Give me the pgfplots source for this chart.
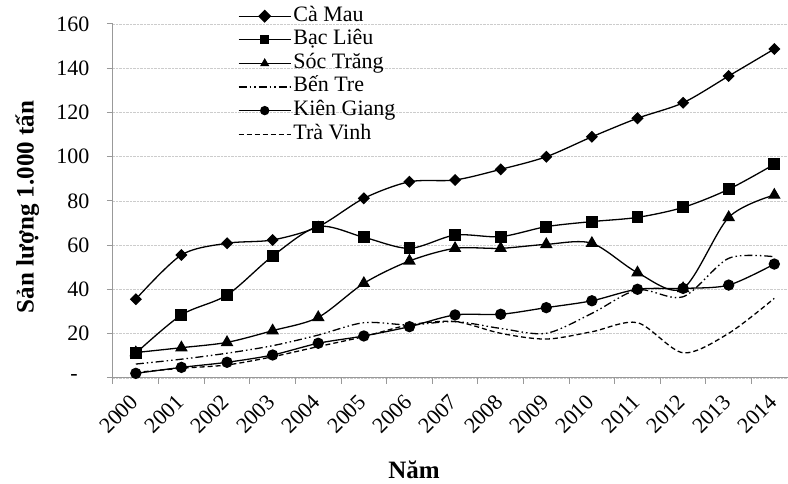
\documentclass[border=0pt]{standalone}
\usepackage{pgfplots}
\pgfplotsset{compat=1.18}
\usepackage{pgfplotstable}
\usepackage{fontspec}
\setmainfont{Liberation Serif}

% year index, then the six provinces (1.000 tan)
\pgfplotstableread{
x camau baclieu soctrang bentre kiengiang travinh
0 35.6 11.2 11.5 6.3 2.1 2.5
1 55.6 28.5 13.7 8.5 4.8 4.4
2 60.9 37.5 16.1 11.2 7.1 5.9
3 62.4 55.1 21.4 14.6 10.4 9.6
4 68.4 68.4 27.4 19.4 15.7 14.2
5 81.2 63.6 42.8 25.0 19.0 18.7
6 88.7 58.6 52.9 24.0 23.2 24.0
7 89.5 64.6 58.6 25.5 28.5 25.5
8 94.3 63.9 58.6 22.4 28.8 20.2
9 100.0 68.4 60.4 20.2 31.8 17.6
10 109.0 70.7 60.9 29.2 34.9 20.9
11 117.4 72.6 47.6 39.8 40.1 25.0
12 124.4 77.1 40.5 36.7 40.5 11.4
13 136.5 85.3 72.6 54.1 42.0 20.2
14 148.7 96.6 82.7 54.8 51.5 36.0
}\data

\begin{document}
\begin{tikzpicture}
\begin{axis}[
  name=ax,
  scale only axis, width=675pt, height=354pt,
  xmin=-0.5, xmax=14.3, ymin=0, ymax=160,
  axis lines*=left,
  axis line style={draw=gray!80, line width=1pt},
  tick align=outside,
  xtick={0,...,14},
  xticklabels={2000,2001,2002,2003,2004,2005,2006,2007,2008,2009,2010,2011,2012,2013,2014},
  major x tick style={draw=none},
  minor xtick={-0.5,0.5,...,13.5},
  minor x tick style={draw=gray!80, line width=1pt},
  minor tick length=6pt,
  ytick={0,20,...,160},
  yticklabels={\makebox[19pt][l]{-},20,40,60,80,100,120,140,160},
  ytick style={draw=gray!80, line width=1pt},
  major tick length=6pt,
  ymajorgrids,
  grid style={densely dotted, draw=gray!40, line width=0.8pt},
  xticklabel style={yshift=-13pt, rotate=45, anchor=east, font=\fontsize{22}{24}\selectfont, inner sep=2pt},
  yticklabel style={font=\fontsize{22}{26}\selectfont, xshift=-14pt},
  xlabel={\textbf{Năm}},
  ylabel={\textbf{Sản lượng 1.000 tấn}},
  every axis x label/.style={at={(axis description cs:0.446,0)}, yshift=-92pt, anchor=center, font=\fontsize{25}{28}\selectfont},
  every axis y label/.style={at={(axis description cs:-0.127,0.483)}, rotate=90, anchor=center, font=\fontsize{25}{28}\selectfont},
  legend style={at={(axis description cs:0.185,1.0565)}, anchor=north west, draw=none, fill=none,
    font=\fontsize{22}{24}\selectfont, row sep=-0.4pt, inner sep=0pt,
    nodes={text height=15pt, text depth=5pt}},
  legend cell align=left,
  legend image code/.code={\draw[mark repeat=2, mark phase=2, #1, mark size=4pt] plot coordinates {(0pt,0pt) (26pt,0pt) (52pt,0pt)};},
  every axis plot/.append style={black, line width=1.3pt, smooth},
]
\addplot[mark=square*, mark options={rotate=45}, mark size=3.6pt] table[x=x, y=camau] {\data};
\addlegendentry{Cà Mau}
\addplot[mark=square*, mark size=5.3pt] table[x=x, y=baclieu] {\data};
\addlegendentry{Bạc Liêu}
\addplot[mark=triangle*, mark size=6pt] table[x=x, y=soctrang] {\data};
\addlegendentry{Sóc Trăng}
\addplot[no marks, dash pattern=on 8pt off 3pt on 1.5pt off 3pt on 1.5pt off 3pt] table[x=x, y=bentre] {\data};
\addlegendentry{Bến Tre}
\addplot[mark=*, mark size=5pt] table[x=x, y=kiengiang] {\data};
\addlegendentry{Kiên Giang}
\addplot[no marks, dash pattern=on 5pt off 3pt] table[x=x, y=travinh] {\data};
\addlegendentry{Trà Vinh}
\end{axis}
\pgfresetboundingbox
\path ([shift={(-113pt,-106pt)}]ax.south west) rectangle ([shift={(675pt,378pt)}]ax.south west);
\end{tikzpicture}
\end{document}
